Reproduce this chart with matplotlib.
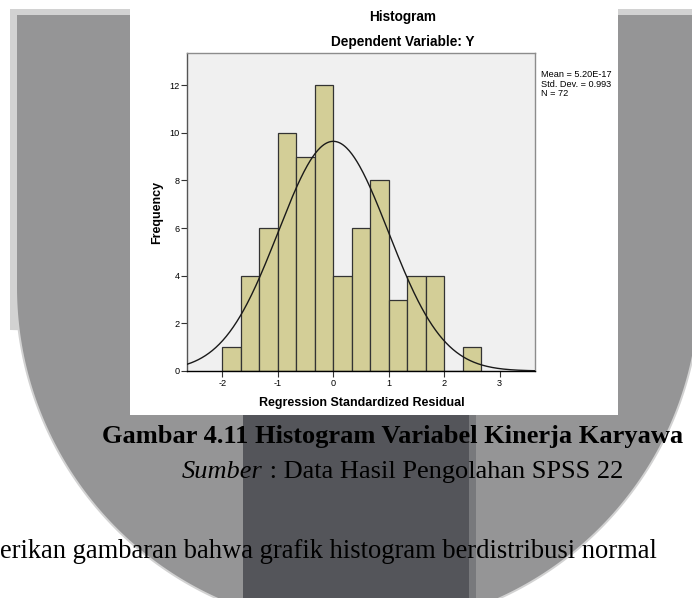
import numpy as np
import matplotlib
matplotlib.use("Agg")
import matplotlib.pyplot as plt
from matplotlib.patches import Polygon, Rectangle

# histogram of regression standardized residuals (SPSS output)
BIN_START = -2.0
BIN_WIDTH = 1 / 3
COUNTS = [1, 4, 6, 10, 9, 12, 4, 6, 8, 3, 4, 4, 0, 1]
MEAN = 5.20e-17
STD = 0.993
N = 72
X_TICKS = [-2, -1, 0, 1, 2, 3]
Y_TICKS = [0, 2, 4, 6, 8, 10, 12]

TITLE = "Histogram"
SUBTITLE = "Dependent Variable: Y"
XLABEL = "Regression Standardized Residual"
YLABEL = "Frequency"
STATS = f"Mean = {MEAN:.2E}\nStd. Dev. = {STD}\nN = {N}"
CAPTION = "Gambar 4.11 Histogram Variabel Kinerja Karyawa"
SOURCE_IT = "Sumber"
SOURCE = " : Data Hasil Pengolahan SPSS 22"
BODY = "erikan gambaran bahwa grafik histogram berdistribusi normal"

W, H = 692, 598
BAR_COLOR = "#d3ce97"
PLOT_BG = "#f0f0f0"

plt.rcParams["axes.unicode_minus"] = False


def u_shape(left, top, cx, cy, r, side_end=None):
    # straight sides down to side_end, then the lower part of a circle
    if side_end is None:
        side_end = cy
    t = np.linspace(np.pi, 0, 200)
    arc = np.column_stack([cx + r * np.cos(t), cy + r * np.sin(t)])
    arc = arc[arc[:, 1] >= side_end]
    right = 2 * cx - left
    return [(left, top), (left, side_end)] + [tuple(p) for p in arc] + [(right, side_end), (right, top)]


fig = plt.figure(figsize=(W / 100, H / 100), dpi=100)
fig.patch.set_facecolor("white")

# page background with the watermark
bg = fig.add_axes([0, 0, 1, 1])
bg.set_xlim(0, W)
bg.set_ylim(H, 0)
bg.axis("off")

bg.add_patch(Polygon(u_shape(10, 9, 358, 287, 343, side_end=330), closed=True, color="#d2d2d2", lw=0))
inner = Polygon(u_shape(17, 15, 358, 287, 341), closed=True, color="#959596", lw=0)
bg.add_patch(inner)
dark = Rectangle((243, 15), 226, H, color="#54555a", lw=0)
strip = Rectangle((469, 15), 7, H, color="#78797c", lw=0)
for p in (dark, strip):
    bg.add_patch(p)
    p.set_clip_path(inner)

# white panel of the SPSS chart
bg.add_patch(Rectangle((130, 0), 488, 415, color="white", lw=0))

chart_font = ["Liberation Sans", "DejaVu Sans"]
bg.text(403, 17, TITLE, ha="center", va="center", fontsize=9.8, fontweight="bold", family=chart_font)
bg.text(403, 42, SUBTITLE, ha="center", va="center", fontsize=9.8, fontweight="bold", family=chart_font)
bg.text(541, 70, STATS, ha="left", va="top", fontsize=6.6, linespacing=1.08, family=chart_font)
bg.text(362, 403, XLABEL, ha="center", va="center", fontsize=9, fontweight="bold", family=chart_font)
bg.text(157, 212, YLABEL, ha="center", va="center", rotation=90, fontsize=9, fontweight="bold", family=chart_font)

# document text under the chart
serif = ["Liberation Serif", "DejaVu Serif"]
bg.text(102, 443, CAPTION, ha="left", va="baseline", fontsize=19, fontweight="bold", family=serif)
t1 = bg.text(182, 478, SOURCE_IT, ha="left", va="baseline", fontsize=19, style="italic", family=serif)
bg.annotate(SOURCE, xy=(1, 0), xycoords=t1, ha="left", va="bottom", fontsize=19, family=serif)
bg.text(0, 558, BODY, ha="left", va="baseline", fontsize=19.1, family=serif)

# the histogram itself
ax = fig.add_axes([187 / W, 1 - 371 / H, 348 / W, 318 / H])
ax.set_facecolor(PLOT_BG)
edges = BIN_START + BIN_WIDTH * np.arange(len(COUNTS) + 1)
ax.bar(edges[:-1], COUNTS, width=BIN_WIDTH, align="edge", color=BAR_COLOR,
       edgecolor="#333333", linewidth=0.9, zorder=2)

xs = np.linspace(-2.64, 3.64, 400)
pdf = N * BIN_WIDTH * np.exp(-0.5 * ((xs - MEAN) / STD) ** 2) / (STD * np.sqrt(2 * np.pi))
ax.plot(xs, pdf, color="#1a1a1a", lw=1.0, zorder=3)

ax.set_xlim(-2.64, 3.64)
ax.set_ylim(0, 13.35)
ax.set_xticks(X_TICKS)
ax.set_yticks(Y_TICKS)
ax.tick_params(axis="both", direction="out", length=4, width=0.8, color="#333333",
               labelsize=6.6, pad=1.5)
for lab in ax.get_xticklabels() + ax.get_yticklabels():
    lab.set_family(chart_font)
for side in ("top", "right"):
    ax.spines[side].set_color("#8c8c8c")
ax.spines["left"].set_color("#555555")
ax.spines["bottom"].set_color("black")
for sp in ax.spines.values():
    sp.set_linewidth(1.0)

fig.savefig("out.png", dpi=100)
